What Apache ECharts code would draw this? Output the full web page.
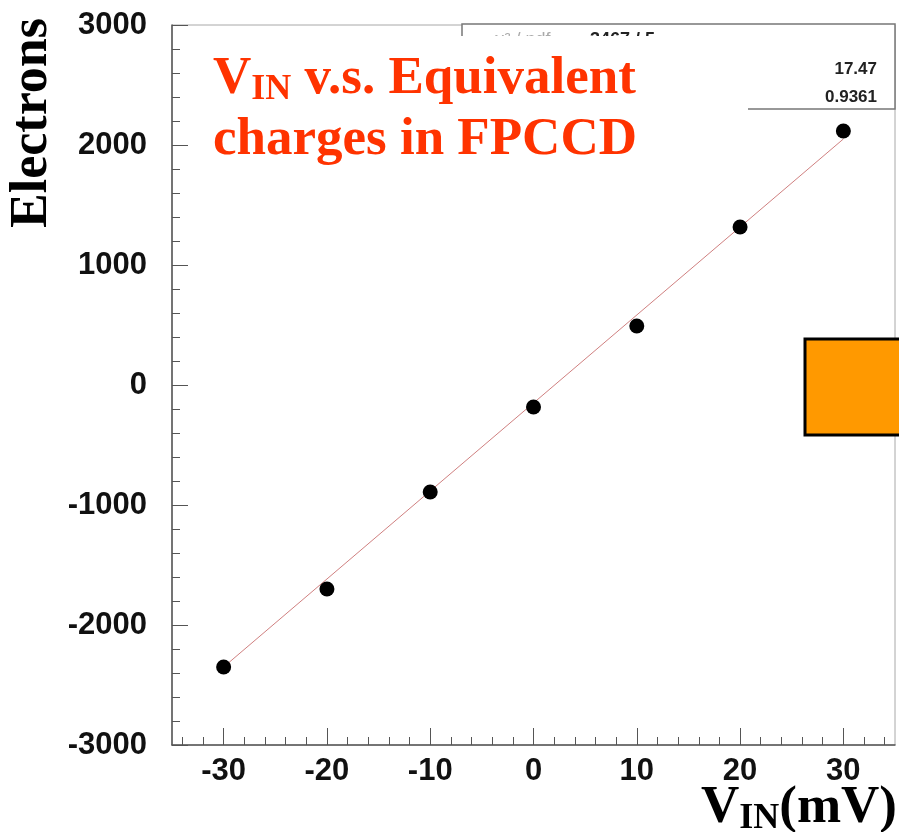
<!DOCTYPE html>
<html>
<head>
<meta charset="utf-8">
<script src="https://cdn.jsdelivr.net/npm/echarts@6/dist/echarts.min.js"></script>
<style>
  html, body { margin: 0; padding: 0; background: #fff; }
  #chart { width: 899px; height: 832px; }
</style>
</head>
<body>
<div id="chart"></div>
<script>
// Input voltage (mV) and measured equivalent charge (electrons)
const vinValues = [-30, -20, -10, 0, 10, 20, 30];
const electronValues = [-2350, -1700, -892, -183, 492, 1317, 2117];

// Linear fit drawn across the measured range
const fitX = [-30, 30];
const fitY = [-2350, 2050];

// Fit statistics shown in the box
const statValues = ['17.47', '0.9361'];
const statHeader = ['\u03c7\u00b2 / ndf', '3467 / 5'];

// Axis ticks
const xMajorTicks = [-30, -20, -10, 0, 10, 20, 30];
const xMinorTicks = [-34, -32, -28, -26, -24, -22, -18, -16, -14, -12, -8, -6, -4, -2,
                     2, 4, 6, 8, 12, 14, 16, 18, 22, 24, 26, 28, 32, 34];

const RED = '#ff3300';
const SERIF = '"Liberation Serif", "Times New Roman", serif';
const SANS = '"Liberation Sans", Arial, Helvetica, sans-serif';

const measureCtx = document.createElement('canvas').getContext('2d');
function textWidth(str, font) {
  measureCtx.font = font;
  return measureCtx.measureText(str).width;
}

// Text placed by baseline: zrender centres on 'middle', so shift by ~0.33em
function baselineText(str, x, baseY, size, color, extra) {
  return Object.assign({
    type: 'text',
    z: 20,
    style: {
      text: str,
      x: x,
      y: baseY - 0.33 * size,
      font: 'bold ' + size + 'px ' + SERIF,
      fill: color,
      textAlign: 'left',
      textVerticalAlign: 'middle'
    }
  }, extra || {});
}

// Title with "IN" subscript
const titleX = 213, titleBase1 = 97, titleBase2 = 158;
const bigSize = 53, subSize = 36;
const wV = textWidth('V', 'bold ' + bigSize + 'px ' + SERIF);
const wIN = textWidth('IN', 'bold ' + subSize + 'px ' + SERIF);

// X axis name "V_IN(mV)" right-aligned near the window edge
const xnSize = 53, xnSub = 36;
const wXnRest = textWidth('(mV)', 'bold ' + xnSize + 'px ' + SERIF);
const wXnV = textWidth('V', 'bold ' + xnSize + 'px ' + SERIF);
const wXnIN = textWidth('IN', 'bold ' + xnSub + 'px ' + SERIF);
const xnRight = 897, xnBase = 826;
const xnStart = xnRight - wXnRest - wXnIN - wXnV;

const chart = echarts.init(document.getElementById('chart'), null, { renderer: 'canvas' });

chart.setOption({
  animation: false,
  backgroundColor: '#ffffff',
  grid: {
    left: 172, right: 4, top: 25, bottom: 87,
    show: true,
    borderColor: '#a8a8a8',
    borderWidth: 1,
    backgroundColor: 'transparent'
  },
  xAxis: [
    {
      type: 'value', min: -35, max: 35,
      axisLine: { show: true, onZero: false, lineStyle: { color: '#555', width: 1.5 } },
      axisTick: { show: true, inside: true, length: 17, customValues: xMajorTicks,
                  lineStyle: { color: '#555', width: 1 } },
      axisLabel: { show: true, customValues: xMajorTicks, margin: 11,
                   fontFamily: SANS, fontWeight: 'bold', fontSize: 31, color: '#111',
                   formatter: v => String(v) },
      splitLine: { show: false }
    },
    {
      type: 'value', min: -35, max: 35, position: 'bottom',
      axisLine: { show: false, onZero: false },
      axisTick: { show: true, inside: true, length: 8, customValues: xMinorTicks,
                  lineStyle: { color: '#555', width: 1 } },
      axisLabel: { show: false },
      splitLine: { show: false }
    }
  ],
  yAxis: {
    type: 'value', min: -3000, max: 3000, interval: 1000,
    axisLine: { show: true, onZero: false, lineStyle: { color: '#555', width: 1.5 } },
    axisTick: { show: true, inside: true, length: 16, lineStyle: { color: '#555', width: 1 } },
    minorTick: { show: true, splitNumber: 5, length: 8, lineStyle: { color: '#555', width: 1 } },
    axisLabel: { margin: 25, fontFamily: SANS, fontWeight: 'bold', fontSize: 31, color: '#111',
                 formatter: v => String(v) },
    splitLine: { show: false },
    minorSplitLine: { show: false }
  },
  series: [
    {
      name: 'fit',
      type: 'line',
      data: fitX.map((x, i) => [x, fitY[i]]),
      showSymbol: false,
      symbol: 'none',
      lineStyle: { color: '#d08080', width: 1 },
      z: 3,
      silent: true
    },
    {
      name: 'data',
      type: 'scatter',
      data: vinValues.map((x, i) => [x, electronValues[i]]),
      symbol: 'circle',
      symbolSize: 15,
      itemStyle: { color: '#000', opacity: 1 },
      z: 4
    }
  ],
  graphic: [
    // Fit statistics box (partly hidden behind the title panel)
    {
      type: 'rect', z: 10,
      shape: { x: 462, y: 24, width: 433, height: 85 },
      style: { fill: '#fff', stroke: '#777', lineWidth: 1.5 }
    },
    {
      type: 'text', z: 11,
      style: { text: statHeader[0], x: 495, y: 31, font: '18px ' + SANS, fill: '#aaa',
               textAlign: 'left', textVerticalAlign: 'top' }
    },
    {
      type: 'text', z: 11,
      style: { text: statHeader[1], x: 590, y: 31, font: 'bold 18px ' + SANS, fill: '#222',
               textAlign: 'left', textVerticalAlign: 'top' }
    },
    {
      type: 'text', z: 11,
      style: { text: statValues[0], x: 877, y: 69, font: 'bold 17px ' + SANS, fill: '#222',
               textAlign: 'right', textVerticalAlign: 'middle' }
    },
    {
      type: 'text', z: 11,
      style: { text: statValues[1], x: 877, y: 97, font: 'bold 17px ' + SANS, fill: '#222',
               textAlign: 'right', textVerticalAlign: 'middle' }
    },
    // White title panel
    {
      type: 'rect', z: 15,
      shape: { x: 200, y: 36, width: 548, height: 140 },
      style: { fill: '#fff' }
    },
    baselineText('V', titleX, titleBase1, bigSize, RED),
    baselineText('IN', titleX + wV, titleBase1 + 5, subSize, RED),
    baselineText(' v.s. Equivalent', titleX + wV + wIN, titleBase1, bigSize, RED),
    baselineText('charges in FPCCD', titleX, titleBase2, bigSize, RED),
    // Y axis name
    {
      type: 'text', z: 20,
      x: 33, y: 123, rotation: Math.PI / 2,
      style: { text: 'Electrons', x: 0, y: 0, font: 'bold 52px ' + SERIF, fill: '#000',
               textAlign: 'center', textVerticalAlign: 'middle' }
    },
    // X axis name
    baselineText('V', xnStart, xnBase, xnSize, '#000'),
    baselineText('IN', xnStart + wXnV, xnBase + 5, xnSub, '#000'),
    baselineText('(mV)', xnStart + wXnV + wXnIN, xnBase, xnSize, '#000'),
    // Orange marker block on the right edge
    {
      type: 'rect', z: 20,
      shape: { x: 805, y: 339, width: 100, height: 96 },
      style: { fill: '#ff9900', stroke: '#000', lineWidth: 3 }
    }
  ]
});
</script>
</body>
</html>
